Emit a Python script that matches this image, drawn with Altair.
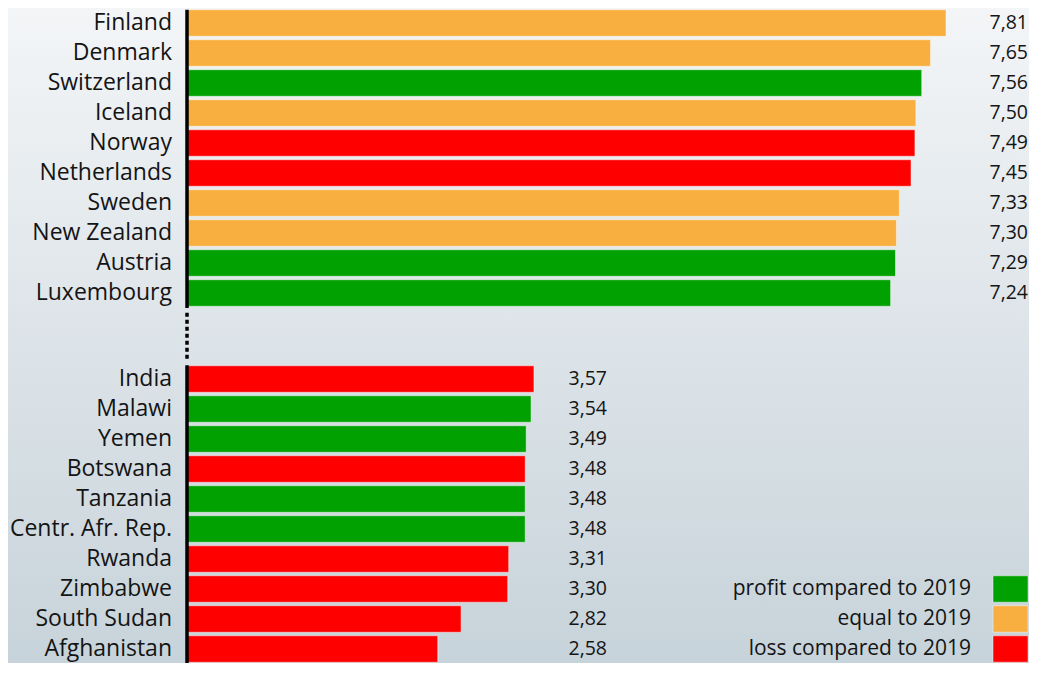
import altair as alt
import pandas as pd

# ---- data ----
top_countries = ["Finland", "Denmark", "Switzerland", "Iceland", "Norway",
                 "Netherlands", "Sweden", "New Zealand", "Austria", "Luxembourg"]
top_values = [7.81, 7.65, 7.56, 7.50, 7.49, 7.45, 7.33, 7.30, 7.29, 7.24]
top_status = ["equal", "equal", "profit", "equal", "loss",
              "loss", "equal", "equal", "profit", "profit"]

bottom_countries = ["India", "Malawi", "Yemen", "Botswana", "Tanzania",
                    "Centr. Afr. Rep.", "Rwanda", "Zimbabwe", "South Sudan", "Afghanistan"]
bottom_values = [3.57, 3.54, 3.49, 3.48, 3.48, 3.48, 3.31, 3.30, 2.82, 2.58]
bottom_status = ["loss", "profit", "profit", "loss", "profit",
                 "profit", "loss", "loss", "loss", "loss"]

legend_status = ["profit", "equal", "loss"]
legend_labels = ["profit compared to 2019", "equal to 2019", "loss compared to 2019"]

status_domain = ["profit", "equal", "loss"]
status_colors = ["#00a100", "#f9af3f", "#ff0000"]

# ---- layout ----
W, H = 1021, 655
STEP = 30.0
GAP = 86 / STEP       # distance (in rows) between last top row and first bottom row
YMIN = -15 / STEP
YMAX = YMIN + H / STEP
FONT = "Open Sans"
TXT = "#141414"

rows = []
for i, (c, v, s) in enumerate(zip(top_countries, top_values, top_status)):
    rows.append({"country": c, "value": v, "status": s, "pos": i, "group": "top"})
for j, (c, v, s) in enumerate(zip(bottom_countries, bottom_values, bottom_status)):
    rows.append({"country": c, "value": v, "status": s, "pos": 9 + GAP + j, "group": "bottom"})
df = pd.DataFrame(rows)
df["label"] = df["value"].map(lambda v: f"{v:.2f}".replace(".", ","))

bottom_pos = [9 + GAP + j for j in range(len(bottom_countries))]
leg = pd.DataFrame({"status": legend_status, "text": legend_labels,
                    "pos": bottom_pos[-3:]})
leg["p1"] = leg["pos"] - 0.44
leg["p2"] = leg["pos"] + 0.44

xs = alt.Scale(domain=[-1.842, 8.664], nice=False, zero=False, padding=0)
ys = alt.Scale(domain=[YMIN, YMAX], reverse=True, nice=False, zero=False, padding=0)
cs = alt.Scale(domain=status_domain, range=status_colors)

grad = alt.LinearGradient(
    gradient="linear",
    stops=[alt.GradientStop(color="#f3f5f7", offset=0),
           alt.GradientStop(color="#c7d3da", offset=1)],
    x1=0, x2=0, y1=0, y2=1)

bg = alt.Chart(pd.DataFrame({"a": [0]})).mark_rect(color=grad).encode(
    x=alt.value(0), x2=alt.value(W), y=alt.value(0), y2=alt.value(H))

bars = alt.Chart(df).mark_bar(orient="horizontal", size=26.5, stroke="white",
                              strokeOpacity=0.45, strokeWidth=1).encode(
    x=alt.X("value:Q", scale=xs, axis=None, stack=None),
    y=alt.Y("pos:Q", scale=ys, axis=None),
    color=alt.Color("status:N", scale=cs, legend=None),
)

names = alt.Chart(df).mark_text(align="right", baseline="middle", font=FONT,
                                fontSize=23, color=TXT).encode(
    x=alt.value(164), y=alt.Y("pos:Q", scale=ys), text="country:N")

vals_top = alt.Chart(df).transform_filter(alt.datum.group == "top").mark_text(
    align="right", baseline="middle", font=FONT, fontSize=19.5, color=TXT).encode(
    x=alt.value(1020), y=alt.Y("pos:Q", scale=ys), text="label:N")
vals_bot = alt.Chart(df).transform_filter(alt.datum.group == "bottom").mark_text(
    align="right", baseline="middle", font=FONT, fontSize=19.5, color=TXT).encode(
    x=alt.value(599), y=alt.Y("pos:Q", scale=ys), text="label:N")

# axis line: solid / dotted / solid
seg = pd.DataFrame({"y1": [-0.44, 9 + GAP - 0.46], "y2": [9.5, YMAX]})
dot = pd.DataFrame({"y1": [9.66], "y2": [9 + GAP - 0.6]})
axis_solid = alt.Chart(seg).mark_rule(color="black", strokeWidth=3.5).encode(
    x=alt.datum(0, scale=xs), y=alt.Y("y1:Q", scale=ys), y2="y2:Q")
axis_dot = alt.Chart(dot).mark_rule(color="black", strokeWidth=3.5,
                                    strokeDash=[4, 3]).encode(
    x=alt.datum(0, scale=xs), y=alt.Y("y1:Q", scale=ys), y2="y2:Q")

leg_rect = alt.Chart(leg).mark_rect(stroke="white", strokeOpacity=0.45,
                                    strokeWidth=1).encode(
    x=alt.value(985), x2=alt.value(1020),
    y=alt.Y("p1:Q", scale=ys), y2="p2:Q",
    color=alt.Color("status:N", scale=cs, legend=None))
leg_text = alt.Chart(leg).mark_text(align="right", baseline="middle", font=FONT,
                                    fontSize=21, color=TXT).encode(
    x=alt.value(963), y=alt.Y("pos:Q", scale=ys), text="text:N")

chart = alt.layer(bg, bars, axis_solid, axis_dot, names, vals_top, vals_bot,
                  leg_rect, leg_text).properties(
    width=W, height=H, padding=0,
    autosize=alt.AutoSizeParams(type="none"),
).configure_view(stroke=None)

chart.save("out.html", embed_options={"renderer": "svg", "actions": False})
